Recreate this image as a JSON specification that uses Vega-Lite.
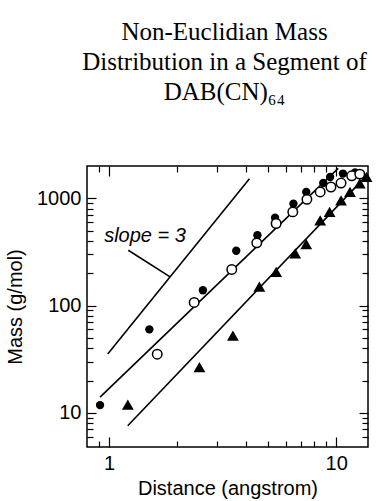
{
  "$schema": "https://vega.github.io/schema/vega-lite/v6.json",
  "width": 281,
  "height": 281,
  "autosize": {"type": "none"},
  "padding": {"left": 87, "top": 166, "right": 10, "bottom": 54},
  "background": "white",
  "title": {
    "text": ["Non-Euclidian Mass", "Distribution in a Segment of", "DAB(CN)₆₄"],
    "font": "Liberation Serif",
    "fontSize": 25,
    "fontWeight": "normal",
    "color": "black",
    "lineHeight": 30,
    "anchor": "middle",
    "offset": 60,
    "dx": -3
  },
  "config": {
    "view": {"stroke": "black", "strokeWidth": 1.5},
    "axis": {
      "domain": false,
      "grid": false,
      "tickColor": "black",
      "tickWidth": 1.2,
      "labelColor": "black",
      "labelFont": "Liberation Sans",
      "labelFontSize": 20,
      "titleFont": "Liberation Sans",
      "titleFontSize": 20,
      "titleFontWeight": "normal",
      "titleColor": "black"
    }
  },
  "datasets": {
    "points": [
      {"series": "filled", "distance": 0.913, "mass": 11.8},
      {"series": "filled", "distance": 1.505, "mass": 60},
      {"series": "filled", "distance": 2.59, "mass": 139},
      {"series": "filled", "distance": 3.63, "mass": 324},
      {"series": "filled", "distance": 4.5, "mass": 453},
      {"series": "filled", "distance": 5.38, "mass": 660},
      {"series": "filled", "distance": 6.48, "mass": 890},
      {"series": "filled", "distance": 7.38, "mass": 1147},
      {"series": "filled", "distance": 8.77, "mass": 1387},
      {"series": "filled", "distance": 9.4, "mass": 1580},
      {"series": "filled", "distance": 10.7, "mass": 1700},
      {"series": "filled", "distance": 12.1, "mass": 1740},
      {"series": "open", "distance": 1.63, "mass": 35.2},
      {"series": "open", "distance": 2.37, "mass": 107},
      {"series": "open", "distance": 3.47, "mass": 217},
      {"series": "open", "distance": 4.47, "mass": 384},
      {"series": "open", "distance": 5.44, "mass": 582},
      {"series": "open", "distance": 6.44, "mass": 747},
      {"series": "open", "distance": 7.43, "mass": 977},
      {"series": "open", "distance": 8.5, "mass": 1147},
      {"series": "open", "distance": 9.48, "mass": 1274},
      {"series": "open", "distance": 10.5, "mass": 1387},
      {"series": "open", "distance": 11.7, "mass": 1620},
      {"series": "open", "distance": 12.7, "mass": 1680},
      {"series": "triangle", "distance": 1.21, "mass": 11.9},
      {"series": "triangle", "distance": 2.5, "mass": 26.6},
      {"series": "triangle", "distance": 3.51, "mass": 52.4},
      {"series": "triangle", "distance": 4.59, "mass": 150},
      {"series": "triangle", "distance": 5.44, "mass": 206},
      {"series": "triangle", "distance": 6.6, "mass": 306},
      {"series": "triangle", "distance": 7.38, "mass": 373},
      {"series": "triangle", "distance": 8.5, "mass": 624},
      {"series": "triangle", "distance": 9.35, "mass": 747},
      {"series": "triangle", "distance": 10.5, "mass": 955},
      {"series": "triangle", "distance": 11.5, "mass": 1147},
      {"series": "triangle", "distance": 12.7, "mass": 1380},
      {"series": "triangle", "distance": 13.6, "mass": 1580}
    ],
    "lines": [
      {"line": "fit_circles", "distance": 0.913, "mass": 14},
      {"line": "fit_circles", "distance": 10.2, "mass": 1900},
      {"line": "fit_triangles", "distance": 1.209, "mass": 7.57},
      {"line": "fit_triangles", "distance": 13.5, "mass": 1600},
      {"line": "slope3", "distance": 0.987, "mass": 35.4},
      {"line": "slope3", "distance": 4.15, "mass": 1524},
      {"line": "leader", "distance": 1.216, "mass": 328},
      {"line": "leader", "distance": 1.857, "mass": 185}
    ],
    "labels": [
      {"distance": 1.44, "mass": 390, "label": "slope = 3"}
    ]
  },
  "resolve": {"axis": {"x": "independent", "y": "independent"}},
  "layer": [
    {
      "data": {"name": "lines"},
      "mark": {"type": "line", "color": "black", "strokeWidth": 1.6},
      "encoding": {
        "x": {
          "field": "distance", "type": "quantitative",
          "scale": {"type": "log", "domain": [0.8, 13.8], "nice": false},
          "axis": {
            "orient": "bottom",
            "title": "Distance (angstrom)",
            "values": [0.9, 1, 2, 3, 4, 5, 6, 7, 8, 9, 10],
            "tickSize": {"condition": {"test": "datum.value == 1 || datum.value == 10", "value": -10}, "value": -6},
            "labelExpr": "datum.value == 1 || datum.value == 10 ? datum.value + '' : ''",
            "labelPadding": 16,
            "titlePadding": 5
          }
        },
        "y": {
          "field": "mass", "type": "quantitative",
          "scale": {"type": "log", "domain": [4.8, 2000], "nice": false},
          "axis": {
            "orient": "left",
            "title": "Mass (g/mol)",
            "values": [6, 7, 8, 9, 10, 20, 30, 40, 50, 60, 70, 80, 90, 100, 200, 300, 400, 500, 600, 700, 800, 900, 1000],
            "tickSize": {"condition": {"test": "datum.value == 10 || datum.value == 100 || datum.value == 1000", "value": -9}, "value": -6},
            "labelExpr": "datum.value == 10 || datum.value == 100 || datum.value == 1000 ? datum.value + '' : ''",
            "labelPadding": 15,
            "titlePadding": 11
          }
        },
        "detail": {"field": "line"}
      }
    },
    {
      "data": {"name": "lines"},
      "mark": {"type": "line", "opacity": 0},
      "encoding": {
        "x": {
          "field": "distance", "type": "quantitative",
          "axis": {
            "orient": "top", "title": null, "labels": false,
            "values": [0.9, 1, 2, 3, 4, 5, 6, 7, 8, 9, 10],
            "tickSize": {"condition": {"test": "datum.value == 1 || datum.value == 10", "value": -10}, "value": -6}
          }
        },
        "y": {
          "field": "mass", "type": "quantitative",
          "axis": {
            "orient": "right", "title": null, "labels": false,
            "values": [6, 7, 8, 9, 10, 20, 30, 40, 50, 60, 70, 80, 90, 100, 200, 300, 400, 500, 600, 700, 800, 900, 1000],
            "tickSize": {"condition": {"test": "datum.value == 10 || datum.value == 100 || datum.value == 1000", "value": -9}, "value": -6}
          }
        },
        "detail": {"field": "line"}
      }
    },
    {
      "data": {"name": "points"},
      "transform": [{"filter": "datum.series == 'filled'"}],
      "mark": {"type": "point", "shape": "circle", "filled": true, "color": "black", "opacity": 1, "size": 70},
      "encoding": {
        "x": {"field": "distance", "type": "quantitative", "axis": null},
        "y": {"field": "mass", "type": "quantitative", "axis": null}
      }
    },
    {
      "data": {"name": "points"},
      "transform": [{"filter": "datum.series == 'open'"}],
      "mark": {"type": "point", "shape": "circle", "filled": true, "fill": "white", "stroke": "black", "strokeWidth": 1.5, "opacity": 1, "size": 90},
      "encoding": {
        "x": {"field": "distance", "type": "quantitative", "axis": null},
        "y": {"field": "mass", "type": "quantitative", "axis": null}
      }
    },
    {
      "data": {"name": "points"},
      "transform": [{"filter": "datum.series == 'triangle'"}],
      "mark": {"type": "point", "shape": "triangle-up", "filled": true, "color": "black", "opacity": 1, "size": 140},
      "encoding": {
        "x": {"field": "distance", "type": "quantitative", "axis": null},
        "y": {"field": "mass", "type": "quantitative", "axis": null}
      }
    },
    {
      "data": {"name": "labels"},
      "mark": {"type": "text", "font": "Liberation Sans", "fontSize": 20, "fontStyle": "italic", "color": "black", "align": "center", "baseline": "alphabetic"},
      "encoding": {
        "x": {"field": "distance", "type": "quantitative", "axis": null},
        "y": {"field": "mass", "type": "quantitative", "axis": null},
        "text": {"field": "label"}
      }
    }
  ]
}
